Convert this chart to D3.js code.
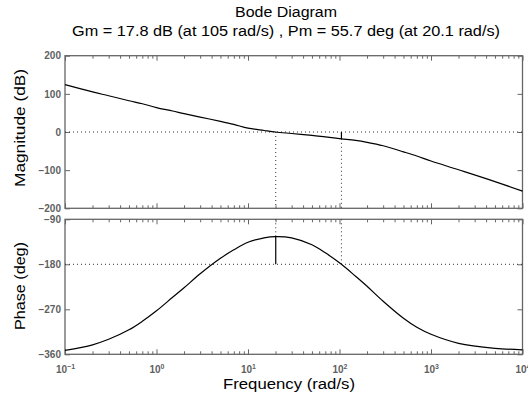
<!DOCTYPE html>
<html><head><meta charset="utf-8">
<script src="https://cdn.jsdelivr.net/npm/d3@7"></script>
<style>body{margin:0;background:#fff}text{font-family:"Liberation Sans",Arial,sans-serif}</style>
</head><body><svg id="c" width="528" height="397"></svg>
<script>
// ---- data ----
const freqs    = [0.1, 0.2, 0.3, 0.5, 0.7, 1, 1.5, 2, 3, 5, 7, 10, 15, 20, 30, 50, 70, 105, 150, 200, 300, 500, 700, 1000, 2000, 5000, 10000];
const magDb    = [124, 105, 95, 82, 74, 64, 55, 48, 39, 28, 20, 10, 4, 0, -4, -9, -13, -17.8, -22, -27, -36, -52, -63, -76, -99, -130, -155];
const phaseDeg = [-352, -341, -330, -311, -294, -273, -246, -227, -199, -168, -151, -136, -127, -124.5, -127, -141, -157, -180, -204, -224, -254, -288, -306, -320, -338, -348, -351];
const xTickExps   = [-1, 0, 1, 2, 3, 4];
const magTicks    = [-200, -100, 0, 100, 200];
const phaseTicks  = [-360, -270, -180, -90];
const gmFreq = [105], gmDb = [17.8];
const pmFreq = [20.1], pmDeg = [55.7];
const titleLines = ["Bode Diagram", "Gm = 17.8 dB (at 105 rad/s) ,  Pm = 55.7 deg (at 20.1 rad/s)"];

const svg = d3.select('#c');
const X0 = 65, X1 = 522.5;
const x  = d3.scaleLog().domain([0.1, 1e4]).range([X0, X1]);
const yM = d3.scaleLinear().domain([-200, 200]).range([208.3, 55.7]);
const yP = d3.scaleLinear().domain([-360, -90]).range([354.3, 219.3]);

const minor = [];
for (let e = -1; e < 4; e++) for (let k = 2; k <= 9; k++) minor.push(k * Math.pow(10, e));
const major = xTickExps.map(e => Math.pow(10, e));
const fmt = d => d < 0 ? '\u2212' + (-d) : String(d);
const frameCol = '#666', labCol = '#5f5f5f';

function panel(y, ticks, withLabels) {
  const top = y.range()[1], bot = y.range()[0];
  const gl = svg.append('g').attr('transform', `translate(${X0},0)`)
    .call(d3.axisLeft(y).tickValues(ticks).tickSize(-5).tickPadding(4).tickFormat(fmt));
  const gr = svg.append('g').attr('transform', `translate(${X1},0)`)
    .call(d3.axisRight(y).tickValues(ticks).tickSize(-5).tickFormat(''));
  const gb = svg.append('g').attr('transform', `translate(0,${bot})`)
    .call(d3.axisBottom(x).tickValues(major).tickSize(-5).tickFormat(''));
  const gbm = svg.append('g').attr('transform', `translate(0,${bot})`)
    .call(d3.axisBottom(x).tickValues(minor).tickSize(-3).tickFormat(''));
  const gt = svg.append('g').attr('transform', `translate(0,${top})`)
    .call(d3.axisTop(x).tickValues(major).tickSize(-5).tickFormat(''));
  const gtm = svg.append('g').attr('transform', `translate(0,${top})`)
    .call(d3.axisTop(x).tickValues(minor).tickSize(-3).tickFormat(''));
  [gl, gr, gb, gbm, gt, gtm].forEach(g => {
    g.select('.domain').remove();
    g.selectAll('line').attr('stroke', frameCol);
  });
  gl.selectAll('text').attr('fill', labCol).attr('font-size', 10).attr('font-weight', 'bold')
    .attr('font-family', '"Liberation Sans",Arial,sans-serif');
  svg.append('rect').attr('x', X0).attr('y', top).attr('width', X1 - X0).attr('height', bot - top)
    .attr('fill', 'none').attr('stroke', frameCol).attr('stroke-width', 1.3);
  if (withLabels) {
    gb.selectAll('.tick').each(function(d, i) {
      const t = d3.select(this).append('text').attr('y', 19).attr('fill', labCol)
        .attr('font-size', 10).attr('font-weight', 'bold').attr('text-anchor', 'middle');
      t.append('tspan').text('10');
      t.append('tspan').attr('dy', -4.5).attr('font-size', 7).text(fmt(xTickExps[i]));
    });
  }
}

panel(yM, magTicks, false);
panel(yP, phaseTicks, true);

const dotted = (x1, y1, x2, y2) => svg.append('line').attr('x1', x1).attr('y1', y1).attr('x2', x2).attr('y2', y2)
  .attr('stroke', '#333').attr('stroke-width', 1).attr('stroke-dasharray', '1,3');
const solid = (x1, y1, x2, y2) => svg.append('line').attr('x1', x1).attr('y1', y1).attr('x2', x2).attr('y2', y2)
  .attr('stroke', '#000').attr('stroke-width', 1.2);

dotted(X0, yM(0), X1, yM(0));
dotted(X0, yP(-180), X1, yP(-180));
dotted(x(pmFreq[0]), yM(0), x(pmFreq[0]), yM(-200));
dotted(x(pmFreq[0]), yP(-90), x(pmFreq[0]), yP(-180 + pmDeg[0]));
solid(x(pmFreq[0]), yP(-180 + pmDeg[0]), x(pmFreq[0]), yP(-180));
dotted(x(gmFreq[0]), yM(-gmDb[0]), x(gmFreq[0]), yM(-200));
solid(x(gmFreq[0]), yM(0), x(gmFreq[0]), yM(-gmDb[0]));
dotted(x(gmFreq[0]), yP(-90), x(gmFreq[0]), yP(-180));

const magLine = d3.line().x((d, i) => x(freqs[i])).y(d => yM(d)).curve(d3.curveCatmullRom);
const phLine  = d3.line().x((d, i) => x(freqs[i])).y(d => yP(d)).curve(d3.curveCatmullRom);
svg.append('path').attr('d', magLine(magDb)).attr('fill', 'none').attr('stroke', '#000').attr('stroke-width', 1.2);
svg.append('path').attr('d', phLine(phaseDeg)).attr('fill', 'none').attr('stroke', '#000').attr('stroke-width', 1.2);

svg.append('text').attr('x', 286).attr('y', 17).attr('text-anchor', 'middle').attr('font-size', 14)
  .attr('textLength', 102).attr('lengthAdjust', 'spacingAndGlyphs').text(titleLines[0]);
svg.append('text').attr('x', 286).attr('y', 36).attr('text-anchor', 'middle').attr('font-size', 14)
  .attr('textLength', 428).attr('lengthAdjust', 'spacingAndGlyphs').text(titleLines[1]);
svg.append('text').attr('x', 289).attr('y', 389).attr('text-anchor', 'middle').attr('font-size', 14)
  .attr('textLength', 132).attr('lengthAdjust', 'spacingAndGlyphs').text('Frequency  (rad/s)');
svg.append('text').attr('transform', 'translate(25,128) rotate(-90)').attr('text-anchor', 'middle').attr('font-size', 14)
  .attr('textLength', 118).attr('lengthAdjust', 'spacingAndGlyphs').text('Magnitude (dB)');
svg.append('text').attr('transform', 'translate(25,286) rotate(-90)').attr('text-anchor', 'middle').attr('font-size', 14)
  .attr('textLength', 88).attr('lengthAdjust', 'spacingAndGlyphs').text('Phase (deg)');
</script></body></html>
